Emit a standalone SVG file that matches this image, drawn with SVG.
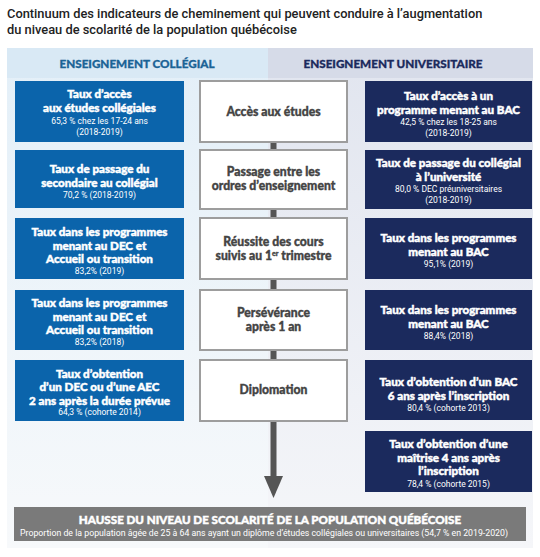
<svg xmlns="http://www.w3.org/2000/svg" width="540" height="557" viewBox="0 0 540 557">
<defs>
<linearGradient id="gl" x1="0" y1="0" x2="0" y2="1"><stop offset="0" stop-color="#e3eff8"/><stop offset="1" stop-color="#f7f9fb"/></linearGradient>
<linearGradient id="gr" x1="0" y1="0" x2="0" y2="1"><stop offset="0" stop-color="#e1e5ef"/><stop offset="1" stop-color="#f5f6f9"/></linearGradient>
<style>
.ttl{font-family:Roboto,"Liberation Sans",sans-serif;font-size:12.85px;font-weight:500;fill:#222}
.hd{font-family:Lato,"Liberation Sans",sans-serif;font-size:11.7px;font-weight:900;text-anchor:middle;stroke-width:0.3}
.bl{fill:#0b64ab}
.nv{fill:#1b2a5d}
.mid{fill:#fff;stroke:#9d9d9d;stroke-width:2}
.b{font-family:Lato,"Liberation Sans",sans-serif;font-size:11.6px;font-weight:900;fill:#fff;stroke:#fff;stroke-width:0.45;text-anchor:middle}
.s{font-family:Roboto,"Liberation Sans",sans-serif;font-size:8.5px;fill:#fff;text-anchor:middle}
.m{font-family:Lato,"Liberation Sans",sans-serif;font-size:12.2px;font-weight:900;fill:#444;stroke:#444;stroke-width:0.35;text-anchor:middle}
.con{stroke:#555;stroke-width:6;fill:none}
</style>
</defs>
<rect width="540" height="557" fill="#fff"/>
<text class="ttl" x="7" y="18">Continuum des indicateurs de cheminement qui peuvent conduire à l’augmentation</text>
<text class="ttl" x="7" y="34">du niveau de scolarité de la population québécoise</text>

<rect x="7" y="48" width="261" height="500" fill="url(#gl)"/>
<rect x="268" y="48" width="265" height="500" fill="url(#gr)"/>
<rect x="7" y="48" width="261" height="30" fill="#d9e9f5"/>
<rect x="268" y="48" width="265" height="30" fill="#d6dbe8"/>
<text class="hd" x="137" y="68" fill="#1b6396" stroke="#1b6396">ENSEIGNEMENT COLLÉGIAL</text>
<text class="hd" x="393" y="68" fill="#1b2a5d" stroke="#1b2a5d">ENSEIGNEMENT UNIVERSITAIRE</text>

<g id="connectors">
<line class="con" x1="273.5" y1="142" x2="273.5" y2="360"/>
<line class="con" x1="273.5" y1="421" x2="273.5" y2="478"/>
<polygon points="264,476 283,476 273.5,498" fill="#555"/>
</g>

<g id="c1"><rect class="bl" x="15" y="81" width="169" height="61"/>
<text class="b" x="99.5" y="98">Taux d’accès</text>
<text class="b" x="99.5" y="112">aux études collégiales</text>
<text class="s" x="99.5" y="124">65,3 % chez les 17-24 ans</text>
<text class="s" x="99.5" y="135">(2018-2019)</text></g>

<g id="c2"><rect class="bl" x="15" y="150" width="169" height="58"/>
<text class="b" x="99.5" y="173">Taux de passage du</text>
<text class="b" x="99.5" y="187">secondaire au collégial</text>
<text class="s" x="99.5" y="198">70,2 % (2018-2019)</text></g>

<g id="c3"><rect class="bl" x="15" y="218" width="169" height="61"/>
<text class="b" x="99.5" y="236">Taux dans les programmes</text>
<text class="b" x="99.5" y="249.5">menant au DEC et</text>
<text class="b" x="99.5" y="263">Accueil ou transition</text>
<text class="s" x="99.5" y="274">83,2% (2019)</text></g>

<g id="c4"><rect class="bl" x="15" y="290" width="169" height="60"/>
<text class="b" x="99.5" y="307">Taux dans les programmes</text>
<text class="b" x="99.5" y="320.5">menant au DEC et</text>
<text class="b" x="99.5" y="334">Accueil ou transition</text>
<text class="s" x="99.5" y="345">83,2% (2018)</text></g>

<g id="c5"><rect class="bl" x="15" y="360" width="169" height="61"/>
<text class="b" x="99.5" y="377.5">Taux d’obtention</text>
<text class="b" x="99.5" y="391">d’un DEC ou d’une AEC</text>
<text class="b" x="99.5" y="404.5">2 ans après la durée prévue</text>
<text class="s" x="99.5" y="415">64,3 % (cohorte 2014)</text></g>

<g id="m1"><rect class="mid" x="200" y="81" width="147" height="61"/>
<text class="m" x="273.5" y="116">Accès aux études</text></g>
<g id="m2"><rect class="mid" x="200" y="150" width="147" height="59"/>
<text class="m" x="273.5" y="176">Passage entre les</text>
<text class="m" x="273.5" y="190">ordres d’enseignement</text></g>
<g id="m3"><rect class="mid" x="200" y="218" width="147" height="61"/>
<text class="m" x="273.5" y="246">Réussite des cours</text>
<text class="m" x="273.5" y="260">suivis au 1<tspan font-size="7" dy="-4">er</tspan><tspan dy="4"> trimestre</tspan></text></g>
<g id="m4"><rect class="mid" x="200" y="290" width="147" height="60"/>
<text class="m" x="273.5" y="317">Persévérance</text>
<text class="m" x="273.5" y="331">après 1 an</text></g>
<g id="m5"><rect class="mid" x="200" y="360" width="147" height="61"/>
<text class="m" x="273.5" y="394">Diplomation</text></g>

<g id="u1"><rect class="nv" x="365" y="81" width="167" height="61"/>
<text class="b" x="448.5" y="100">Taux d’accès à un</text>
<text class="b" x="448.5" y="114">programme menant au BAC</text>
<text class="s" x="448.5" y="125">42,5 % chez les 18-25 ans</text>
<text class="s" x="448.5" y="136">(2018-2019)</text></g>

<g id="u2"><rect class="nv" x="365" y="150" width="167" height="59"/>
<text class="b" x="448.5" y="167">Taux de passage du collégial</text>
<text class="b" x="448.5" y="181">à l’université</text>
<text class="s" x="448.5" y="192">80,0 % DEC préuniversitaires</text>
<text class="s" x="448.5" y="203">(2018-2019)</text></g>

<g id="u3"><rect class="nv" x="365" y="218" width="167" height="61"/>
<text class="b" x="448.5" y="242">Taux dans les programmes</text>
<text class="b" x="448.5" y="256">menant au BAC</text>
<text class="s" x="448.5" y="267">95,1% (2019)</text></g>

<g id="u4"><rect class="nv" x="365" y="290" width="167" height="60"/>
<text class="b" x="448.5" y="314">Taux dans les programmes</text>
<text class="b" x="448.5" y="328">menant au BAC</text>
<text class="s" x="448.5" y="339">88,4% (2018)</text></g>

<g id="u5"><rect class="nv" x="365" y="360" width="167" height="60"/>
<text class="b" x="448.5" y="386">Taux d’obtention d’un BAC</text>
<text class="b" x="448.5" y="400">6 ans après l’inscription</text>
<text class="s" x="448.5" y="411">80,4 % (cohorte 2013)</text></g>

<g id="u6"><rect class="nv" x="365" y="431" width="167" height="61"/>
<text class="b" x="448.5" y="448">Taux d’obtention d’une</text>
<text class="b" x="448.5" y="461.5">maîtrise 4 ans après</text>
<text class="b" x="448.5" y="475">l’inscription</text>
<text class="s" x="448.5" y="486.5">78,4 % (cohorte 2015)</text></g>

<g id="result"><rect x="14" y="507" width="512" height="34" fill="#7a7a7a"/>
<text class="b" x="270" y="524">HAUSSE DU NIVEAU DE SCOLARITÉ DE LA POPULATION QUÉBÉCOISE</text>
<text class="s" x="264" y="536" font-size="8.5" textLength="488" lengthAdjust="spacingAndGlyphs">Proportion de la population âgée de 25 à 64 ans ayant un diplôme d’études collégiales ou universitaires (54,7 % en 2019-2020)</text></g>
</svg>
